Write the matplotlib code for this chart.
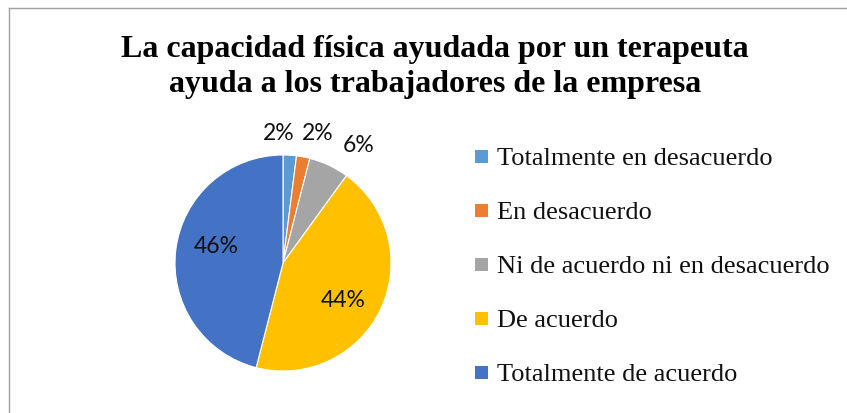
import matplotlib.pyplot as plt
from matplotlib.lines import Line2D
from matplotlib.patches import Rectangle

categorias = [
    "Totalmente en desacuerdo",
    "En desacuerdo",
    "Ni de acuerdo ni en desacuerdo",
    "De acuerdo",
    "Totalmente de acuerdo",
]
porcentajes = [2, 2, 6, 44, 46]
colores = ["#5B9BD5", "#ED7D31", "#A5A5A5", "#FFC000", "#4472C4"]
titulo = ["La capacidad física ayudada por un terapeuta",
          "ayuda a los trabajadores de la empresa"]

W, H = 847, 414
fig = plt.figure(figsize=(W / 100, H / 100), dpi=100)

# pie area: center ~ (283, 264), radius ~108 px
r = 108
cx, cy = 283, 264
ax = fig.add_axes([(cx - r) / W, (H - cy - r) / H, 2 * r / W, 2 * r / H])
ax.pie(
    porcentajes,
    colors=colores,
    startangle=90,
    counterclock=False,
    radius=1.0,
    wedgeprops=dict(edgecolor="white", linewidth=0.8),
)
ax.set_xlim(-1, 1)
ax.set_ylim(-1, 1)
ax.set_aspect("equal")

# data labels (pixel positions, same order as porcentajes)
label_pos = [(279, 133), (318, 133), (359, 146), (343, 301), (216, 247)]
for (px, py), v in zip(label_pos, porcentajes):
    fig.text(px / W, 1 - py / H, f"{v}%", ha="center", va="center",
             fontsize=16.5, family="Lato", color="#111111")

# title, two lines on fixed baselines
for linea, base in zip(titulo, [57, 92]):
    fig.text(435 / W, 1 - base / H, linea, ha="center", va="baseline",
             fontsize=23, fontweight="bold", family="Liberation Serif")

# legend drawn by hand
for i, (cat, c) in enumerate(zip(categorias, colores)):
    yc = 157 + 54 * i
    fig.add_artist(Rectangle((475 / W, 1 - (yc + 6.5) / H), 13 / W, 13 / H,
                             facecolor=c, edgecolor="none",
                             transform=fig.transFigure))
    fig.text(497 / W, 1 - (yc + 8) / H, cat, ha="left", va="baseline",
             fontsize=19, family="Liberation Serif", color="#111111")

# chart frame (top and left visible)
fig.add_artist(Line2D([9 / W, 1], [1 - 9 / H, 1 - 9 / H], color="#A0A0A0", lw=1))
fig.add_artist(Line2D([9 / W, 9 / W], [0, 1 - 9 / H], color="#A0A0A0", lw=1))

fig.savefig("out.png", dpi=100)
